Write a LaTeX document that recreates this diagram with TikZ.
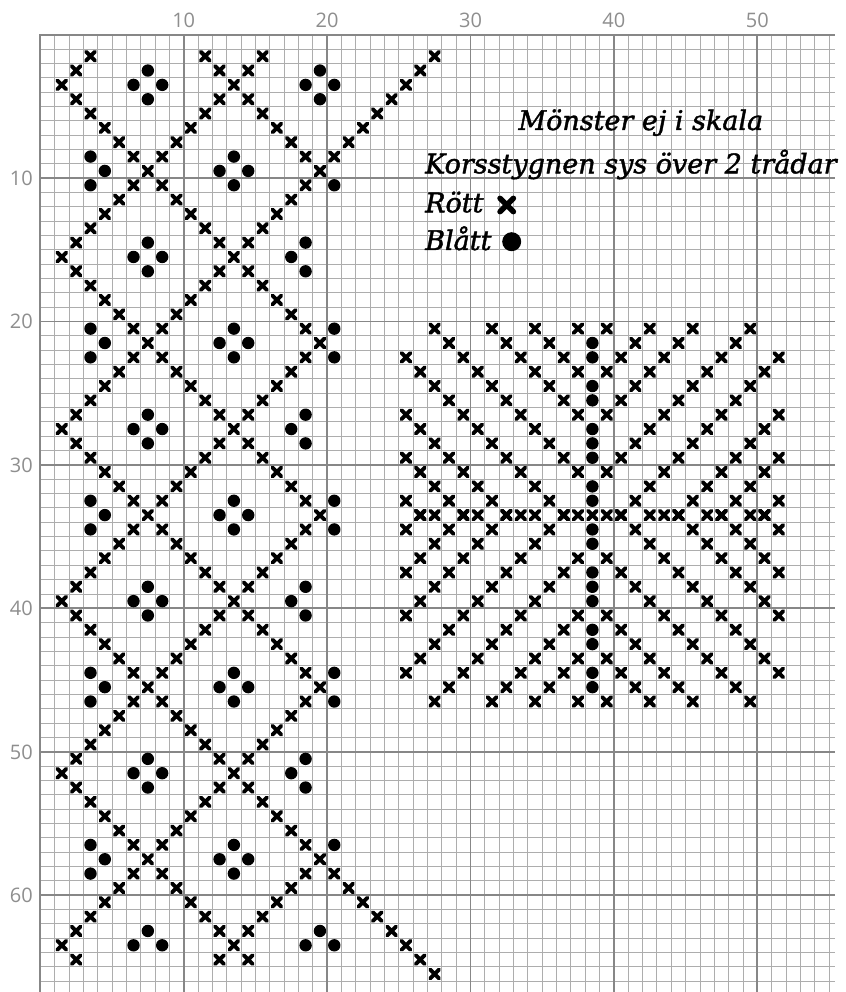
\documentclass[tikz,border=0pt]{standalone}
\usepackage{fontspec}
\setmainfont{DejaVu Serif}
\newfontfamily\numfont{Open Sans}
\newfontfamily\notefont[FakeBold=1.6]{DejaVu Serif}
\definecolor{gridthin}{HTML}{ADADAD}
\definecolor{gridthick}{HTML}{878787}
\definecolor{labelgray}{HTML}{8E8E8E}
\newcommand\stdot[2]{\fill (#1-0.5,#2-0.5) circle (6.2pt);}
\begin{document}
\begin{tikzpicture}[x=1pt,y=-1pt,
  thingrid/.style={draw=gridthin,line width=0.9pt},
  thickgrid/.style={draw=gridthick,line width=1.7pt},
  toplabel/.style={anchor=base,inner sep=0pt,text=labelgray,font=\numfont\fontsize{20}{24}\selectfont},
  leftlabel/.style={anchor=base east,inner sep=0pt,text=labelgray,font=\numfont\fontsize{20}{24}\selectfont},
  note/.style={anchor=base west,inner sep=0pt,font=\notefont\itshape\fontsize{27}{32}\selectfont},
  xst/.pic={\draw[line width=3.9pt,line cap=round] (-0.31,-0.31)--(0.31,0.31) (-0.31,0.31)--(0.31,-0.31);}]
\fill[white] (0,0) rectangle (845,992);
\useasboundingbox (0,0) rectangle (845,992);
\begin{scope}[shift={(40.3,34.7)},x=14.34pt,y=-14.34pt]
  % grid
  \foreach \c in {1,...,55}{\draw[thingrid] (\c,0) -- (\c,66.76);}
  \foreach \r in {1,...,66}{\draw[thingrid] (0,\r) -- (55.42,\r);}
  \foreach \c in {10,20,30,40,50}{\draw[thickgrid] (\c,0) -- (\c,66.76);}
  \foreach \r in {10,20,30,40,50,60}{\draw[thickgrid] (0,\r) -- (55.42,\r);}
  \draw[thickgrid] (0,66.76) -- (0,0) -- (55.42,0);
  % left lattice of crosses
  \foreach \r in {2,...,65}{
    \foreach \c in {2,...,20}{
      \pgfmathtruncatemacro\ok{(mod(\r-\c+120,12)==2)||(mod(\r+\c,12)==6)}
      \ifnum\ok=1 \pic at (\c-0.5,\r-0.5) {xst};\fi
    }
  }
  % long diagonal lines
  \foreach \c in {21,...,28}{
    \pic at (\c-0.5,29.5-\c) {xst};
    \pic at (\c-0.5,\c+37.5) {xst};
  }
  % dots of the lattice
  \foreach \c/\r in {8/4,8/16,8/28,8/40,8/52,14/10,14/22,14/34,14/46,14/58,20/4}{
    \stdot{\c}{\r-1}\stdot{\c-1}{\r}\stdot{\c+1}{\r}\stdot{\c}{\r+1}
  }
  \foreach \c in {8,20}{\stdot{\c}{63}\stdot{\c-1}{64}\stdot{\c+1}{64}}
  \foreach \r in {10,22,34,46,58}{\stdot{4}{\r-1}\stdot{5}{\r}\stdot{4}{\r+1}}
  \foreach \r in {16,28,40,52}{\stdot{19}{\r-1}\stdot{18}{\r}\stdot{19}{\r+1}}
  \foreach \r in {11,21,23,33,35,45,47,57}{\stdot{21}{\r}}
  % star pattern
  \foreach \K/\ca/\cb in {61/40/40,64/40/43,67/40/46,71/40/50,75/41/52,79/45/52,82/48/52,85/51/52}{
    \foreach \c in {\ca,...,\cb}{
      \pgfmathtruncatemacro\rr{\K-\c}
      \pgfmathtruncatemacro\mc{78-\c}
      \pgfmathtruncatemacro\mr{68-\rr}
      \pic at (\c-0.5,\rr-0.5) {xst};
      \pic at (\mc-0.5,\rr-0.5) {xst};
      \pic at (\c-0.5,\mr-0.5) {xst};
      \pic at (\mc-0.5,\mr-0.5) {xst};
    }
  }
  \foreach \c in {27,28,30,31,33,34,35,37,38,39,40,41,43,44,45,47,48,50,51}{\pic at (\c-0.5,33.5) {xst};}
  \foreach \r in {22,23,25,26,28,29,30,32,33,35,36,38,39,40,42,43,45,46}{\stdot{39}{\r}}
\end{scope}
% axis labels
\foreach \k in {1,...,5}{\node[toplabel] (t\k) at ({40.3+143.4*\k},27.3) {\k0};}
\foreach \k in {1,...,6}{\node[leftlabel] (l\k) at (33,{34.7+143.4*\k+7.3}) {\k0};}
% notes
\node[note] (title) at (518.3,130) {Mönster ej i skala};
\node[note] (korss) at (425,173.3) {Korsstygnen sys över 2 trådar};
\node[note] (rott) at (425,212.3) {Rött};
\node[note] (blatt) at (425,250) {Blått};
\draw[line width=5.5pt,line cap=round] (500,198.3) -- (513.4,211.7) (500,211.7) -- (513.4,198.3);
\fill (511.7,241.7) circle (9.5pt);
\end{tikzpicture}
\end{document}
